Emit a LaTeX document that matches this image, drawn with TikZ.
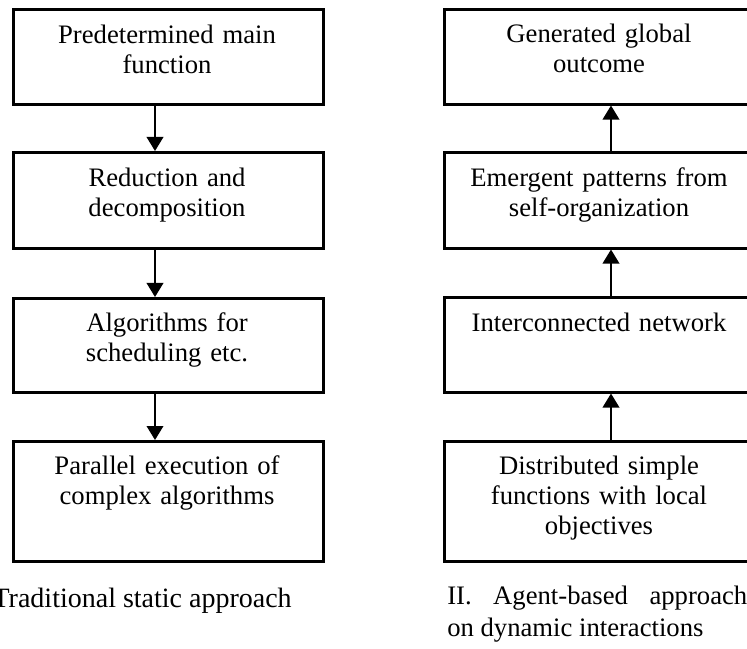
\documentclass[tikz,border=0pt]{standalone}
\usepackage{fontspec}
\setmainfont{Liberation Serif}
\usetikzlibrary{arrows.meta}
\begin{document}
\begin{tikzpicture}[x=0.75pt,y=-0.75pt,
  box/.style={draw=black,line width=1.9pt,rectangle,inner sep=0pt,anchor=north west},
  txt/.style={text width=225pt,align=center,inner sep=0pt,anchor=base,
    font=\fontsize{20}{22.5}\selectfont},
  captxt/.style={inner sep=0pt,anchor=base west},
  arr/.style={line width=1.1pt,-{Triangle[width=12.5pt,length=10.5pt]}}]
\useasboundingbox (0,0) rectangle (747,649);
\clip (0,0) rectangle (747,649);
% left column
\node[box,minimum width=232.5pt,minimum height=71.25pt] (L1) at (12,8) {};
\node[box,minimum width=232.5pt,minimum height=72pt] (L2) at (12,151) {};
\node[box,minimum width=232.5pt,minimum height=70.5pt] (L3) at (12,297) {};
\node[box,minimum width=232.5pt,minimum height=90pt] (L4) at (12,440) {};
\node[txt] (tL1) at (167,44) {Predetermined main\\function};
\node[txt] (tL2) at (167,187) {Reduction and\\decomposition};
\node[txt] (tL3) at (167,331) {Algorithms for\\scheduling etc.};
\node[txt] (tL4) at (167,474) {Parallel execution of\\complex algorithms};
\coordinate (cl) at (155,0);
\draw[arr] (L1.south -| cl) -- (L2.north -| cl);
\draw[arr] (L2.south -| cl) -- (L3.north -| cl);
\draw[arr] (L3.south -| cl) -- (L4.north -| cl);
% right column
\node[box,minimum width=234pt,minimum height=71.25pt] (R1) at (443,8) {};
\node[box,minimum width=234pt,minimum height=72pt] (R2) at (443,151) {};
\node[box,minimum width=234pt,minimum height=71.25pt] (R3) at (443,296) {};
\node[box,minimum width=234pt,minimum height=90pt] (R4) at (443,440) {};
\node[txt] (tR1) at (599,43) {Generated global\\outcome};
\node[txt] (tR2) at (599,187) {Emergent patterns from\\self-organization};
\node[txt] (tR3) at (599,331) {Interconnected network};
\node[txt] (tR4) at (599,474) {Distributed simple\\functions with local\\objectives};
\coordinate (cr) at (611,0);
\draw[arr] (R2.north -| cr) -- (R1.south -| cr);
\draw[arr] (R3.north -| cr) -- (R2.south -| cr);
\draw[arr] (R4.north -| cr) -- (R3.south -| cr);
% captions
\node[captxt,font=\fontsize{21}{26}\selectfont] (capL) at (-31,607) {I. Traditional static approach};
\node[captxt,font=\fontsize{20}{26}\selectfont] (capR1) at (447,604) {\hbox to 225pt{II.\hfill Agent-based\hfill approach}};
\node[captxt,font=\fontsize{20}{26}\selectfont] (capR2) at (447,636) {on dynamic interactions};
\end{tikzpicture}
\end{document}
